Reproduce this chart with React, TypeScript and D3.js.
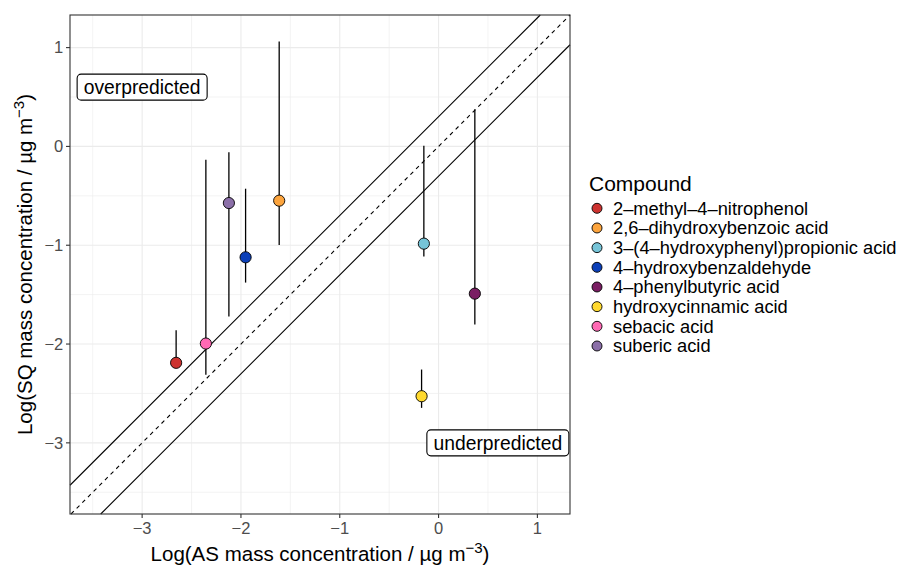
import React from "react";
import * as d3 from "d3";

const compounds = [
  "2–methyl–4–nitrophenol",
  "2,6–dihydroxybenzoic acid",
  "3–(4–hydroxyphenyl)propionic acid",
  "4–hydroxybenzaldehyde",
  "4–phenylbutyric acid",
  "hydroxycinnamic acid",
  "sebacic acid",
  "suberic acid",
];
const colors = ["#CD3330", "#FCA43D", "#76C4D8", "#0B3FB8", "#7A1E63", "#FFD92F", "#FF69B4", "#8B6FA8"];
const asValues = [-2.656, -1.613, -0.149, -1.953, 0.367, -0.172, -2.355, -2.122];
const sqValues = [-2.19, -0.549, -0.984, -1.122, -1.49, -2.528, -1.995, -0.573];
const sqLower = [-2.2, -0.998, -1.115, -1.378, -1.803, -2.646, -2.31, -1.72];
const sqUpper = [-1.86, 1.062, 0.007, -0.428, 0.377, -2.258, -0.135, -0.06];
const xTicks = [-3, -2, -1, 0, 1];
const yTicks = [-3, -2, -1, 0, 1];
const minorTicks = [-3.5, -2.5, -1.5, -0.5, 0.5];
const lineOffsets = [0.301, 0, -0.301];
const labels = [
  { text: "overpredicted", x: -3, y: 0.6 },
  { text: "underpredicted", x: 0.6, y: -3 },
];

const FONT = "'Liberation Sans', Arial, sans-serif";

export default function App() {
  const W = 899, H = 567;
  const L = 70, R = 570, T = 15, B = 514;
  const x = d3.scaleLinear().domain([-3.73, 1.33]).range([L, R]);
  const y = d3.scaleLinear().domain([-3.72, 1.33]).range([B, T]);
  const xd = x.domain(), yd = y.domain();

  const lineSeg = (off: number) => {
    let x0 = xd[0], y0 = x0 + off;
    if (y0 < yd[0]) { y0 = yd[0]; x0 = y0 - off; }
    let x1 = xd[1], y1 = x1 + off;
    if (y1 > yd[1]) { y1 = yd[1]; x1 = y1 - off; }
    return { x1: x(x0), y1: y(y0), x2: x(x1), y2: y(y1) };
  };

  const labelFs = 19.3;
  const tickFs = 16.5;
  const titleFs = 20.5;
  const legX = 597, legY0 = 208.3, legStep = 19.67;

  return (
    <svg width={W} height={H} style={{ position: "absolute", left: 0, top: 0, background: "#fff" }} fontFamily={FONT}>
      <rect x={0} y={0} width={W} height={H} fill="#fff" />
      {minorTicks.map((t) => (
        <g key={"m" + t}>
          <line x1={x(t)} x2={x(t)} y1={T} y2={B} stroke="#EBEBEB" strokeWidth={0.6} />
          <line x1={L} x2={R} y1={y(t)} y2={y(t)} stroke="#EBEBEB" strokeWidth={0.6} />
        </g>
      ))}
      {xTicks.map((t) => (
        <line key={"gx" + t} x1={x(t)} x2={x(t)} y1={T} y2={B} stroke="#EBEBEB" strokeWidth={1.1} />
      ))}
      {yTicks.map((t) => (
        <line key={"gy" + t} x1={L} x2={R} y1={y(t)} y2={y(t)} stroke="#EBEBEB" strokeWidth={1.1} />
      ))}
      {lineOffsets.map((o) => {
        const s = lineSeg(o);
        return (
          <line key={"l" + o} {...s} stroke="#000" strokeWidth={1.1} strokeDasharray={o === 0 ? "4,4" : undefined} />
        );
      })}
      {compounds.map((c, i) => (
        <line key={"e" + c} x1={x(asValues[i])} x2={x(asValues[i])} y1={y(sqLower[i])} y2={y(sqUpper[i])} stroke="#000" strokeWidth={1.3} />
      ))}
      {compounds.map((c, i) => (
        <circle key={"p" + c} cx={x(asValues[i])} cy={y(sqValues[i])} r={5.6} fill={colors[i]} stroke="#000" strokeWidth={0.9} />
      ))}
      {labels.map((lb) => {
        const w = lb.text === "overpredicted" ? 130 : 142;
        const h = 26;
        const cx = x(lb.x), cy = y(lb.y);
        return (
          <g key={lb.text}>
            <rect x={cx - w / 2} y={cy - h / 2} width={w} height={h} rx={4} fill="#fff" stroke="#000" strokeWidth={1.1} />
            <text x={cx} y={cy + 7} fontSize={labelFs} textAnchor="middle" fill="#000">{lb.text}</text>
          </g>
        );
      })}
      <rect x={L} y={T} width={R - L} height={B - T} fill="none" stroke="#333" strokeWidth={1.1} />
      {xTicks.map((t) => (
        <g key={"tx" + t}>
          <line x1={x(t)} x2={x(t)} y1={B} y2={B + 4} stroke="#333" strokeWidth={1.1} />
          <text x={x(t)} y={534} fontSize={tickFs} fill="#4D4D4D" textAnchor="middle">{t < 0 ? "−" + Math.abs(t) : String(t)}</text>
        </g>
      ))}
      {yTicks.map((t) => (
        <g key={"ty" + t}>
          <line x1={L - 4} x2={L} y1={y(t)} y2={y(t)} stroke="#333" strokeWidth={1.1} />
          <text x={L - 6.7} y={y(t) + 5.8} fontSize={tickFs} fill="#4D4D4D" textAnchor="end">{t < 0 ? "−" + Math.abs(t) : String(t)}</text>
        </g>
      ))}
      <text x={(L + R) / 2} y={561} fontSize={titleFs} textAnchor="middle" fill="#000">
        Log(AS mass concentration / µg m<tspan dy={-8.5} fontSize={15}>−3</tspan><tspan dy={8.5}>)</tspan>
      </text>
      <text transform={`translate(32,${(T + B) / 2}) rotate(-90)`} fontSize={titleFs} textAnchor="middle" fill="#000">
        Log(SQ mass concentration / µg m<tspan dy={-8.5} fontSize={15}>−3</tspan><tspan dy={8.5}>)</tspan>
      </text>
      <text x={589} y={191} fontSize={21} fill="#000">Compound</text>
      {compounds.map((c, i) => (
        <g key={"lg" + c}>
          <circle cx={legX} cy={legY0 + i * legStep} r={5} fill={colors[i]} stroke="#000" strokeWidth={0.9} />
          <text x={613} y={legY0 + i * legStep + 6.5} fontSize={18.3} fill="#000">{c}</text>
        </g>
      ))}
    </svg>
  );
}
